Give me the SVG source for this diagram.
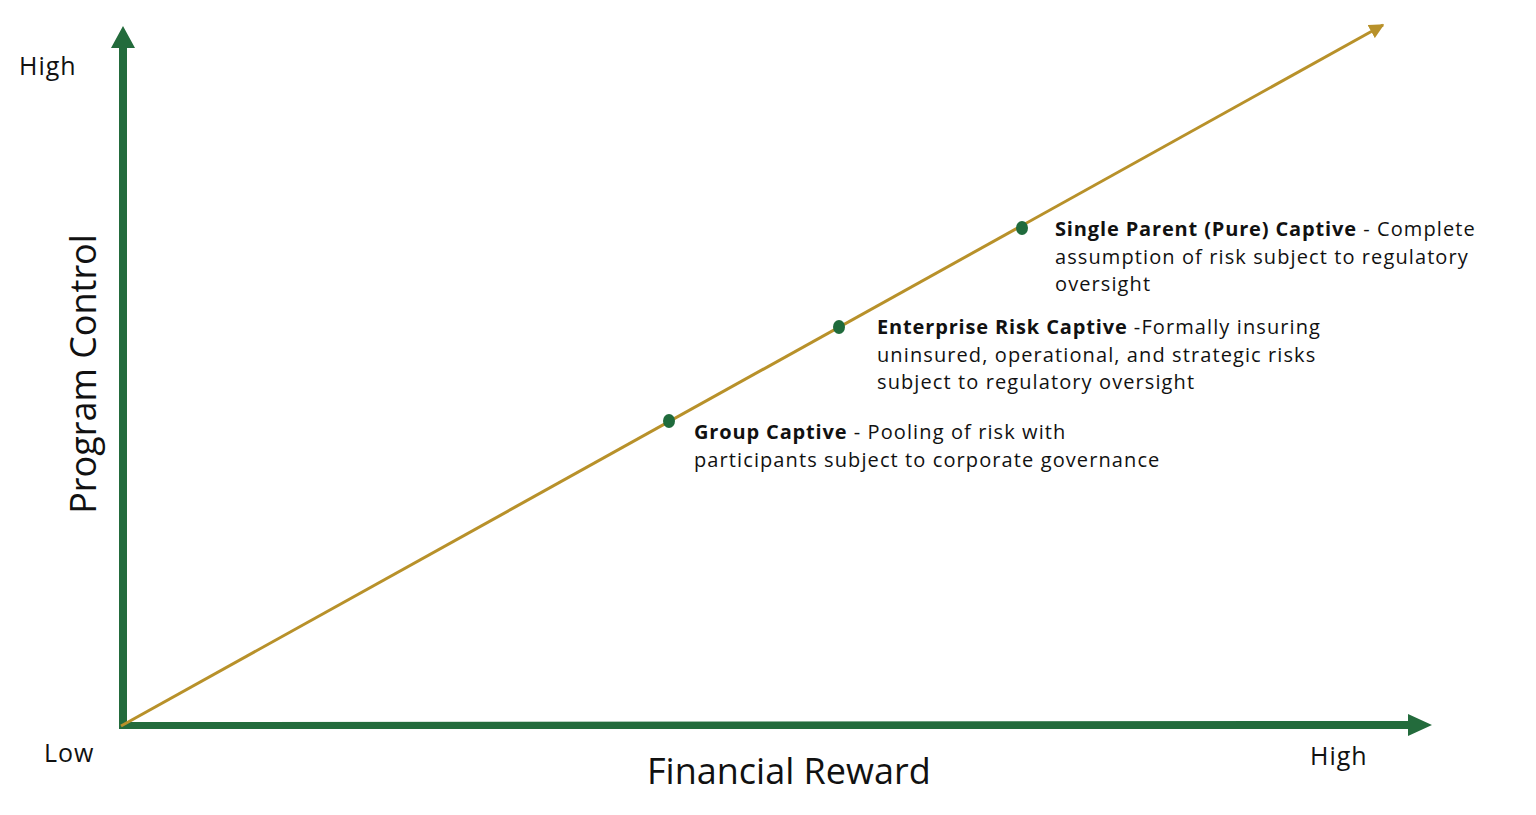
<svg xmlns="http://www.w3.org/2000/svg" width="1536" height="815" viewBox="0 0 1536 815">
<style>
text{font-family:"Open Sans","DejaVu Sans",sans-serif;fill:#111}
.lbl{font-size:20px;letter-spacing:1.1px}
.b{font-weight:bold;letter-spacing:0.85px}
.ax{font-size:25px;letter-spacing:1px}
.title{font-size:36px}
.dot{fill:#1F6B3C}
</style>
<defs>
<marker id="gold" viewBox="0 0 10 10" refX="9" refY="5" markerWidth="5" markerHeight="5" orient="auto" markerUnits="strokeWidth">
<path d="M0,0 L10,5 L0,10 Z" fill="#B8912A"/>
</marker>
</defs>
<rect width="1536" height="815" fill="#fff"/>
<g id="connectors">
<path id="y-axis" d="M119,729 L119,48 L111,48 L123,26 L135,48 L127,48 L127,729 Z" fill="#236B3C"/>
<path id="x-axis" d="M119,722 L1408,721 L1408,714 L1432,725 L1408,736 L1408,729 L119,729 Z" fill="#236B3C"/>
<line id="diag" x1="121" y1="726" x2="1383" y2="25" stroke="#B8912A" stroke-width="3" marker-end="url(#gold)"/>
</g>
<g id="axis-labels">
<text class="ax" x="19" y="75">High</text>
<text class="ax" x="44" y="762">Low</text>
<text class="ax" x="1310" y="765">High</text>
<text class="title" x="647" y="784">Financial Reward</text>
<text class="title" transform="translate(96,374) rotate(-90)" text-anchor="middle">Program Control</text>
</g>
<g id="node-group">
<ellipse class="dot" cx="669" cy="421" rx="6" ry="7"/>
<text class="lbl" x="694" y="439"><tspan class="b">Group Captive</tspan> - Pooling of risk with</text>
<text class="lbl" x="694" y="467">participants subject to corporate governance</text>
</g>
<g id="node-enterprise">
<ellipse class="dot" cx="839" cy="327" rx="6" ry="7"/>
<text class="lbl" x="877" y="334"><tspan class="b">Enterprise Risk Captive</tspan> -Formally insuring</text>
<text class="lbl" x="877" y="362">uninsured, operational, and strategic risks</text>
<text class="lbl" x="877" y="389">subject to regulatory oversight</text>
</g>
<g id="node-single">
<ellipse class="dot" cx="1022" cy="228" rx="6" ry="7"/>
<text class="lbl" x="1055" y="236"><tspan class="b">Single Parent (Pure) Captive</tspan> - Complete</text>
<text class="lbl" x="1055" y="264">assumption of risk subject to regulatory</text>
<text class="lbl" x="1055" y="291">oversight</text>
</g>
</svg>
